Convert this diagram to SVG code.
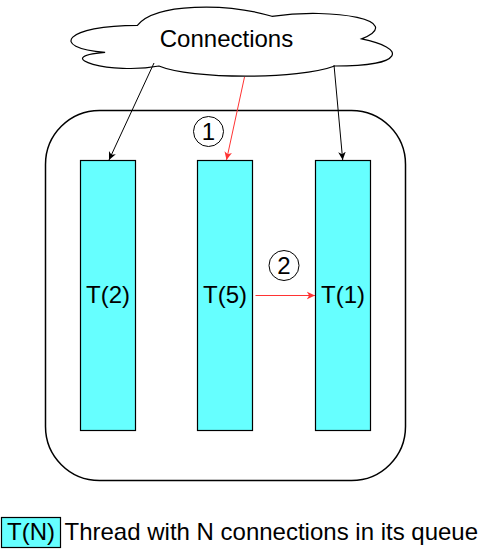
<svg xmlns="http://www.w3.org/2000/svg" width="491" height="549" viewBox="0 0 491 549">
<defs>
<style>
.lbl{font-family:"Liberation Sans",Arial,sans-serif;font-size:24px;fill:#000;}
.thr{fill:#66FFFF;stroke:#000;stroke-width:1.2;}
.blk{fill:none;stroke:#000;stroke-width:1;}
.red{fill:none;stroke:#FF3333;stroke-width:1;}
</style>
<marker id="ab" viewBox="0 0 10 10" refX="9" refY="5" markerWidth="9" markerHeight="9" markerUnits="userSpaceOnUse" orient="auto">
<path d="M0,0.8 L9,5 L0,9.2 L2.5,5 Z" fill="#000"/>
</marker>
<marker id="ar" viewBox="0 0 10 10" refX="9" refY="5" markerWidth="9" markerHeight="9" markerUnits="userSpaceOnUse" orient="auto">
<path d="M0,0.8 L9,5 L0,9.2 L2.5,5 Z" fill="#FF3333"/>
</marker>
</defs>
<rect width="491" height="549" fill="#fff"/>
<g id="container">
<rect x="45.5" y="110.5" width="360" height="370" rx="54" ry="54" fill="#fff" stroke="#000" stroke-width="1.5"/>
</g>
<g id="cloud">
<path d="M 137.4 25.3 C 65.6 25.3 47.7 47.9 105.1 52.4 C 47.7 57 112.3 75 158.9 66 C 191.2 79.5 298.8 79.5 334.7 66 C 406.4 66 406.4 47.9 361.6 38.9 C 406.4 20.8 334.7 7.3 271.9 16.3 C 227.1 2.8 155.3 2.8 137.4 25.3 Z" fill="#fff" stroke="#000" stroke-width="1.2"/>
<text class="lbl" x="226.5" y="47" text-anchor="middle">Connections</text>
</g>
<g id="t2">
<rect class="thr" x="80.5" y="160.5" width="55" height="270"/>
<text class="lbl" x="108" y="303" text-anchor="middle">T(2)</text>
</g>
<g id="t5">
<rect class="thr" x="197.5" y="160.5" width="55" height="270"/>
<text class="lbl" x="225" y="303" text-anchor="middle">T(5)</text>
</g>
<g id="t1">
<rect class="thr" x="315.5" y="160.5" width="55" height="270"/>
<text class="lbl" x="343" y="303" text-anchor="middle">T(1)</text>
</g>
<g id="step1">
<circle cx="208.5" cy="131.5" r="15" fill="#fff" stroke="#000" stroke-width="1"/>
<text class="lbl" x="208.5" y="140" text-anchor="middle">1</text>
</g>
<g id="step2">
<circle cx="284" cy="265.5" r="15" fill="#fff" stroke="#000" stroke-width="1"/>
<text class="lbl" x="284" y="274" text-anchor="middle">2</text>
</g>
<g id="connectors">
<line class="blk" x1="154" y1="63" x2="109" y2="160" marker-end="url(#ab)"/>
<line class="red" x1="244.5" y1="77" x2="226.5" y2="160" marker-end="url(#ar)"/>
<line class="blk" x1="334" y1="65" x2="342.7" y2="160" marker-end="url(#ab)"/>
<line class="red" x1="255.5" y1="295.5" x2="315" y2="295.5" marker-end="url(#ar)"/>
</g>
<g id="legend">
<rect x="1.5" y="517.5" width="59" height="30" fill="#66FFFF" stroke="#000" stroke-width="1.2"/>
<text class="lbl" x="31" y="539.5" text-anchor="middle">T(N)</text>
<text class="lbl" x="64.5" y="539.5">Thread with N connections in its queue</text>
</g>
</svg>
